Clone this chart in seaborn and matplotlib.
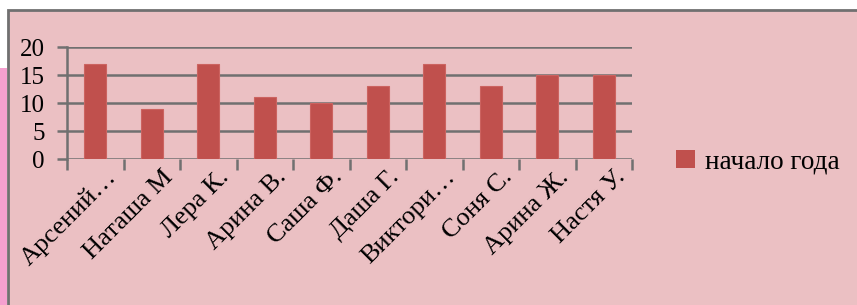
"""Bar chart: results at the start of the year."""

import matplotlib.pyplot as plt
import matplotlib.patches as mpatches
import matplotlib.transforms as mtransforms
import pandas as pd
import seaborn as sns


names = ["Арсений…", "Наташа М", "Лера К.", "Арина В.", "Саша Ф.",
         "Даша Г.", "Виктори…", "Соня С.", "Арина Ж.", "Настя У."]
scores = [17, 9, 17, 11, 10, 13, 17, 13, 15, 15]
series_name = "начало года"
y_ticks = [0, 5, 10, 15, 20]

BG = "#EBC0C3"
BAR = "#C0504D"
GRID = "#707070"
FONT = ["Liberation Serif", "DejaVu Serif"]


def main() -> None:
    sns.set_theme(style="white")
    plt.rcParams["font.family"] = FONT
    plt.rcParams["text.color"] = "black"
    plt.rcParams["xtick.labelcolor"] = "black"
    plt.rcParams["ytick.labelcolor"] = "black"

    df = pd.DataFrame({"name": names, "score": scores})

    fig = plt.figure(figsize=(8.57, 3.05), dpi=100)
    fig.patch.set_facecolor("white")

    # slide background panel with a grey frame, plus pink strip at the left
    fig.add_artist(mpatches.Rectangle((8 / 857, -0.05), 1.0, 1 - 10 / 305 + 0.05,
                                      transform=fig.transFigure, facecolor=BG,
                                      edgecolor=GRID, linewidth=2, zorder=0))
    fig.add_artist(mpatches.Rectangle((0, 0), 7 / 857, 1 - 68 / 305, transform=fig.transFigure,
                                      facecolor="#F5A0CF", edgecolor="none", zorder=1))

    ax = fig.add_axes([67 / 857, 1 - 159 / 305, 565 / 857, 112 / 305])
    ax.set_facecolor("none")

    sns.barplot(data=df, x="name", y="score", color=BAR, width=0.39,
                saturation=1, edgecolor="#CC6360", linewidth=0.8, ax=ax, zorder=3)

    ax.set_xlim(-0.5, len(names) - 0.5)
    ax.set_ylim(0, 20)
    ax.set_yticks(y_ticks)
    ax.set_yticklabels([str(v) for v in y_ticks], fontsize=18)
    ax.set_xlabel("")
    ax.set_ylabel("")

    for v in y_ticks:
        ax.axhline(v, color=GRID, linewidth=1.8, zorder=2)

    for side in ["top", "right", "bottom"]:
        ax.spines[side].set_visible(False)
    ax.spines["left"].set_color(GRID)
    ax.spines["left"].set_linewidth(1.8)

    ax.tick_params(axis="y", length=7, width=1.8, color=GRID, pad=9, left=True)
    ax.set_xticks(range(len(names)))
    ax.set_xticklabels(names, rotation=45, ha="right", rotation_mode="anchor",
                       fontsize=19)
    ax.set_xticks([i - 0.5 for i in range(len(names) + 1)], minor=True)
    ax.tick_params(axis="x", which="major", length=0, pad=5)
    ax.tick_params(axis="x", which="minor", length=8, width=1.8, color=GRID,
                   direction="out", bottom=True)
    shift = mtransforms.ScaledTranslation(10 / 100, 0, fig.dpi_scale_trans)
    for label in ax.get_xticklabels():
        label.set_transform(label.get_transform() + shift)

    handle = mpatches.Patch(facecolor=BAR, edgecolor="none", label=series_name)
    fig.legend(handles=[handle], loc="center left",
               bbox_to_anchor=(652 / 857, 1 - 162 / 305), frameon=False,
               fontsize=19.5, handlelength=0.7, handleheight=0.7,
               handletextpad=0.35, labelcolor="black")

    fig.savefig("out.png", dpi=100, facecolor=fig.get_facecolor())


if __name__ == "__main__":
    main()
